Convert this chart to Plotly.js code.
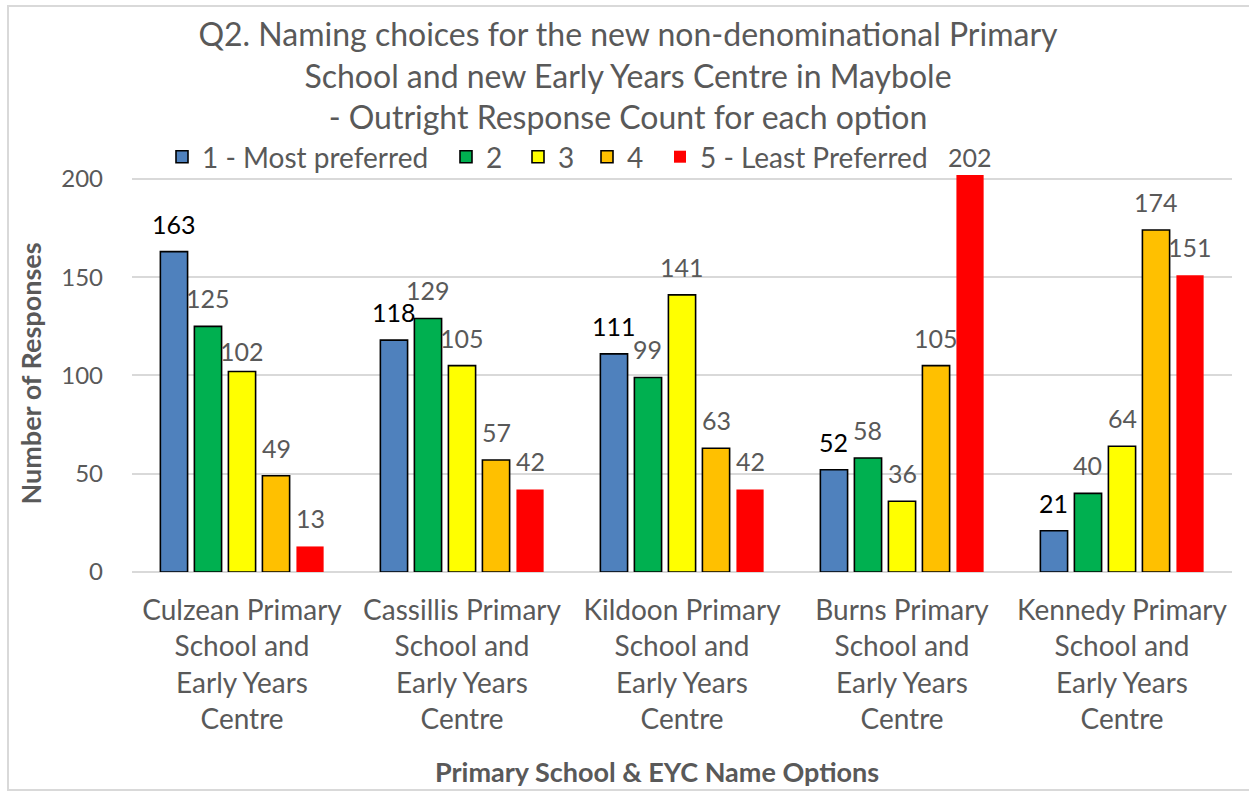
<!DOCTYPE html>
<html>
<head>
<meta charset="utf-8">
<script src="https://cdn.plot.ly/plotly-3.0.1.min.js"></script>
<style>
  html, body { margin: 0; padding: 0; background: #ffffff; }
  #chart { width: 1249px; height: 792px; }
</style>
</head>
<body>
<div id="chart"></div>
<script>
// ---- data ----
const categories = ["Culzean", "Cassillis", "Kildoon", "Burns", "Kennedy"];
const tickLines = [
  ["Culzean Primary", "School and", "Early Years", "Centre"],
  ["Cassillis Primary", "School and", "Early Years", "Centre"],
  ["Kildoon Primary", "School and", "Early Years", "Centre"],
  ["Burns Primary", "School and", "Early Years", "Centre"],
  ["Kennedy Primary", "School and", "Early Years", "Centre"]
];
const seriesNames = ["1 - Most preferred", "2", "3", "4", "5 - Least Preferred"];
const pref1 = [163, 118, 111, 52, 21];
const pref2 = [125, 129, 99, 58, 40];
const pref3 = [102, 105, 141, 36, 64];
const pref4 = [49, 57, 63, 105, 174];
const pref5 = [13, 42, 42, 202, 151];
const seriesValues = [pref1, pref2, pref3, pref4, pref5];
const yTicks = [0, 50, 100, 150, 200];

const titleLines = [
  "Q2. Naming choices for the new non-denominational Primary",
  "School and new Early Years Centre in Maybole",
  "- Outright Response Count for each option"
];

// ---- styles ----
const colors = ["#4F81BD", "#00B050", "#FFFF00", "#FFC000", "#FF0000"];
const borderWidths = [1.6, 1.6, 1.6, 1.6, 0];
const labelColors = ["#000000", "#595959", "#595959", "#595959", "#595959"];
const FONT = "Lato, 'Open Sans', sans-serif";
const GREY = "#595959";
const W = 1249, H = 792;
const M = { l: 132, r: 17, t: 175, b: 220 };
const plotW = W - M.l - M.r, plotH = H - M.t - M.b;
const Y_MAX = 202;
const BARGAP = 0.227, BARGROUPGAP = 0.2;
const slot = plotW / categories.length * (1 - BARGAP) / seriesNames.length;
const LABEL_OFF = 28;
// small hand nudges of some labels (pixels), as moved in the original
const labelNudge = { "2,0": -7, "4,3": -10 };
// legend entry symbol centres (px from left) – one legend per entry
const legendSymX = [183, 467, 539, 608, 681];
const LEGEND_Y_PX = 157;

const pxToPaperX = px => (px - M.l) / plotW;
const pxToPaperY = py => (M.t + plotH - py) / plotH;

const legendKeys = seriesNames.map((_, i) => i === 0 ? "legend" : "legend" + (i + 1));

const traces = seriesNames.map((name, i) => ({
  type: "bar",
  name: name,
  x: categories,
  y: seriesValues[i],
  legend: legendKeys[i],
  marker: { color: colors[i], line: { color: "#000000", width: borderWidths[i] } },
  hoverinfo: "x+y+name"
}));

const annotations = [];
seriesValues.forEach((vals, i) => {
  vals.forEach((v, j) => {
    annotations.push({
      x: categories[j], y: v, xref: "x", yref: "y",
      text: String(v), showarrow: false,
      xshift: (i - (seriesNames.length - 1) / 2) * slot,
      yshift: LABEL_OFF + (labelNudge[i + "," + j] || 0),
      yanchor: "middle", xanchor: "center",
      font: { family: FONT, size: 25, color: labelColors[i] }
    });
  });
});
// x axis title (sits slightly left of centre, as in the original)
annotations.push({
  xref: "paper", yref: "paper", x: pxToPaperX(657), y: pxToPaperY(771),
  text: "<b>Primary School &amp; EYC Name Options</b>", showarrow: false,
  xanchor: "center", yanchor: "middle",
  font: { family: FONT, size: 27, color: GREY }
});

const layout = {
  width: W, height: H,
  margin: M,
  paper_bgcolor: "#ffffff", plot_bgcolor: "#ffffff",
  font: { family: FONT, color: GREY },
  title: {
    text: titleLines.join("<br>"),
    font: { family: FONT, size: 32, color: GREY },
    x: 628 / W, xanchor: "center",
    y: 1 - 46 / H, yanchor: "top", yref: "container"
  },
  barmode: "group",
  bargap: BARGAP,
  bargroupgap: BARGROUPGAP,
  showlegend: true,
  xaxis: {
    type: "category",
    tickmode: "array",
    tickvals: categories,
    ticktext: tickLines.map(ls => ls.join("<br>")),
    tickfont: { family: FONT, size: 28, color: GREY },
    ticks: "",
    showgrid: false,
    showline: false,
    zeroline: false,
    ticklabelstandoff: 19,
    fixedrange: true
  },
  yaxis: {
    range: [0, Y_MAX],
    tickmode: "array",
    tickvals: yTicks,
    showgrid: true,
    gridcolor: "#D9D9D9",
    gridwidth: 1.5,
    zeroline: true,
    zerolinecolor: "#D9D9D9",
    zerolinewidth: 1.5,
    showline: false,
    ticks: "",
    tickfont: { family: FONT, size: 24, color: GREY },
    ticklabelstandoff: 28,
    title: {
      text: "<b>Number of Responses</b>",
      font: { family: FONT, size: 27, color: GREY },
      standoff: 11
    },
    fixedrange: true
  },
  annotations: annotations,
  shapes: [{
    type: "rect", xref: "paper", yref: "paper",
    x0: pxToPaperX(8), x1: pxToPaperX(W + 20),
    y0: pxToPaperY(790), y1: pxToPaperY(6),
    line: { color: "#D9D9D9", width: 2 }, fillcolor: "rgba(0,0,0,0)", layer: "below"
  }]
};

legendKeys.forEach((key, i) => {
  layout[key] = {
    orientation: "h",
    x: pxToPaperX(legendSymX[i] - 21), xanchor: "left",
    y: pxToPaperY(LEGEND_Y_PX), yanchor: "middle",
    font: { family: FONT, size: 28, color: GREY },
    bgcolor: "rgba(0,0,0,0)"
  };
});

Plotly.newPlot("chart", traces, layout, { displayModeBar: false, responsive: false });
</script>
</body>
</html>
